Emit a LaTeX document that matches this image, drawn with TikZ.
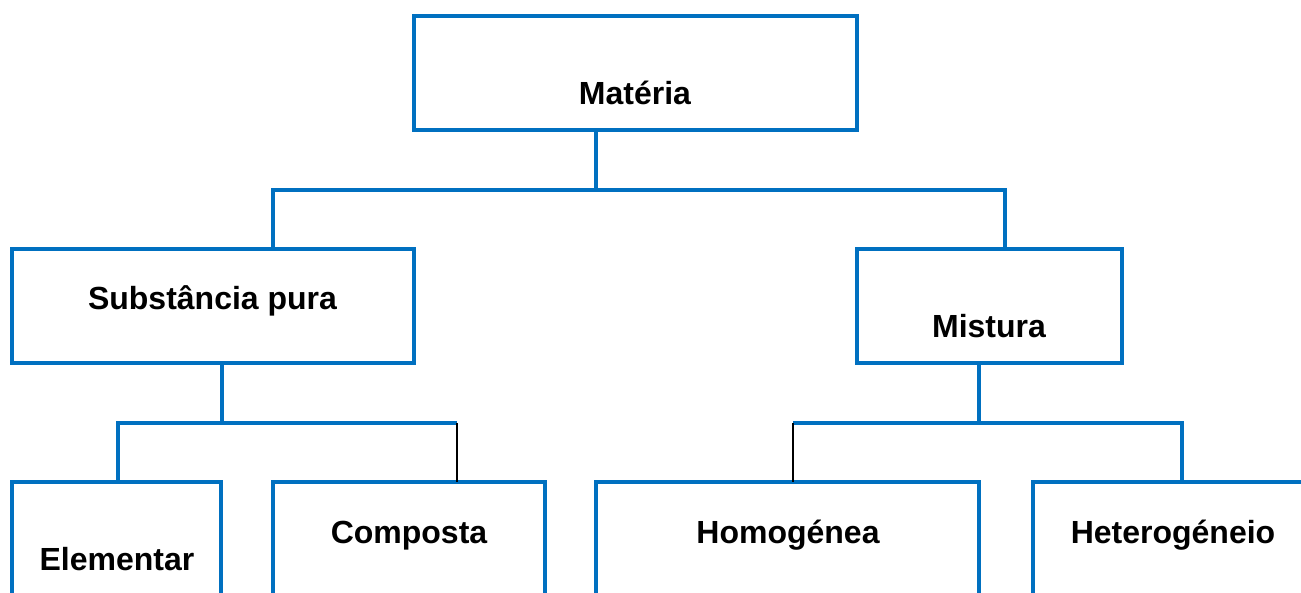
\documentclass[tikz,border=0pt]{standalone}
\usepackage{fontspec}
\setmainfont{Liberation Sans}
\definecolor{boxblue}{HTML}{0070C0}
\tikzset{
  box/.style={draw=boxblue, line width=3.5pt, rectangle, outer sep=0pt,
              inner sep=0pt, anchor=north west, line join=miter},
  link/.style={draw=boxblue, line width=3.5pt, line join=miter},
  thinlink/.style={draw=black, line width=2pt},
  lbl/.style={anchor=base, inner sep=0pt, font=\fontsize{32}{38}\selectfont\bfseries}
}
\begin{document}
\begin{tikzpicture}[x=1pt, y=-1pt]
  \useasboundingbox (0,0) rectangle (1301,593);

  % boxes
  \node[box, minimum width=443pt, minimum height=114pt] (mat) at (414,16) {};
  \node[box, minimum width=402pt, minimum height=114pt] (sub) at (12,249) {};
  \node[box, minimum width=265pt, minimum height=114pt] (mis) at (857,249) {};
  \node[box, minimum width=209pt, minimum height=200pt] (ele) at (12,482) {};
  \node[box, minimum width=272pt, minimum height=200pt] (com) at (273,482) {};
  \node[box, minimum width=383pt, minimum height=200pt] (hom) at (596,482) {};
  \node[box, minimum width=367pt, minimum height=200pt] (het) at (1033,482) {};

  % labels
  \node[lbl] (tmat) at (635,105) {Matéria};
  \node[lbl] (tsub) at (212.5,310) {Substância pura};
  \node[lbl] (tmis) at (989,338) {Mistura};
  \node[lbl] (tele) at (117,570) {Elementar};
  \node[lbl] (tcom) at (409,543) {Composta};
  \node[lbl] (thom) at (788,543) {Homogénea};
  \node[lbl] (thet) at (1173,543) {Heterogéneio};

  % bus points
  \coordinate (b1m) at (596,190);
  \coordinate (b1l) at (273,190);
  \coordinate (b1r) at (1005,190);
  \coordinate (b2l) at (118,423);
  \coordinate (b2m) at (222,423);
  \coordinate (b2r) at (457,423);
  \coordinate (b3l) at (793,423);
  \coordinate (b3m) at (979,423);
  \coordinate (b3r) at (1182,423);

  % first level
  \draw[link] (b1m |- mat.south) -- (b1m);
  \draw[link] (sub.north -| b1l) -- (b1l) -- (b1r) -- (mis.north -| b1r);

  % second level, left
  \draw[link] (b2m |- sub.south) -- (b2m);
  \draw[link] (ele.north -| b2l) -- (b2l) -- (b2r);
  \draw[thinlink] (b2r) -- (b2r |- com.north);

  % second level, right
  \draw[link] (b3m |- mis.south) -- (b3m);
  \draw[link] (b3l) -- (b3r) -- (het.north -| b3r);
  \draw[thinlink] (b3l) -- (b3l |- hom.north);
\end{tikzpicture}
\end{document}
